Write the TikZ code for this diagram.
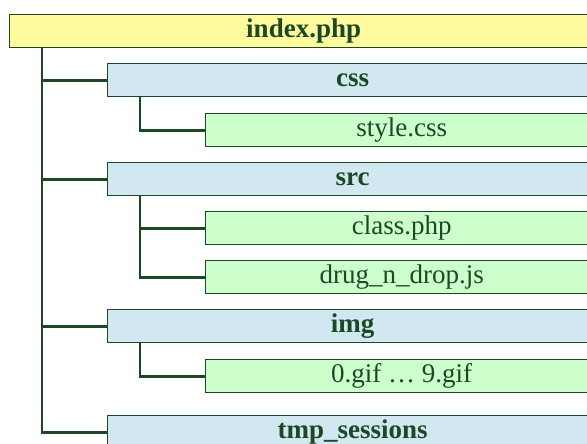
\documentclass[tikz,border=0pt]{standalone}
\usepackage{fontspec}
\setmainfont{Liberation Serif}
\usetikzlibrary{calc}
\definecolor{dgreen}{RGB}{28,72,38}
\definecolor{yel}{RGB}{255,250,158}
\definecolor{blu}{RGB}{210,232,240}
\definecolor{grn}{RGB}{204,255,204}
\tikzset{
  box/.style={draw=dgreen, line width=1.3pt, anchor=north west, minimum height=33pt,
    inner sep=0pt, text height=19pt, text depth=6pt, text=dgreen,
    font=\fontsize{27}{30}\selectfont},
  rootbox/.style={box, fill=yel, font=\fontsize{27}{30}\selectfont\bfseries},
  dirbox/.style={box, fill=blu, font=\fontsize{27}{30}\selectfont\bfseries},
  filebox/.style={box, fill=grn},
  conn/.style={draw=dgreen, line width=2.8pt},
}
\begin{document}
\begin{tikzpicture}[x=1pt,y=-1pt]
\useasboundingbox (0,0) rectangle (587,444);
\clip (0,0) rectangle (587,444);
\fill[white] (0,0) rectangle (587,444);
\node[rootbox, minimum width=588pt] (index) at (9,14) {index.php};
\node[dirbox, minimum width=490pt] (css) at (107,63) {css};
\node[filebox, minimum width=392pt] (style) at (205,113) {style.css};
\node[dirbox, minimum width=490pt] (src) at (107,162) {src};
\node[filebox, minimum width=392pt] (class) at (205,211) {class.php};
\node[filebox, minimum width=392pt] (drug) at (205,260) {drug\_n\_drop.js};
\node[dirbox, minimum width=490pt] (img) at (107,309) {img};
\node[filebox, minimum width=392pt] (gif) at (205,359) {0.gif … 9.gif};
\node[dirbox, minimum width=490pt] (tmp) at (107,415) {tmp\_sessions};
\coordinate (t0) at ($(index.south west)+(33,0)$);
\coordinate (t1) at ($(css.south west)+(33,0)$);
\coordinate (t2) at ($(src.south west)+(33,0)$);
\coordinate (t3) at ($(img.south west)+(33,0)$);
\draw[conn] (t0) |- (css.west);
\draw[conn] (t0) |- (src.west);
\draw[conn] (t0) |- (img.west);
\draw[conn] (t0) |- (tmp.west);
\draw[conn] (t1) |- (style.west);
\draw[conn] (t2) |- (class.west);
\draw[conn] (t2) |- (drug.west);
\draw[conn] (t3) |- (gif.west);
\end{tikzpicture}
\end{document}
